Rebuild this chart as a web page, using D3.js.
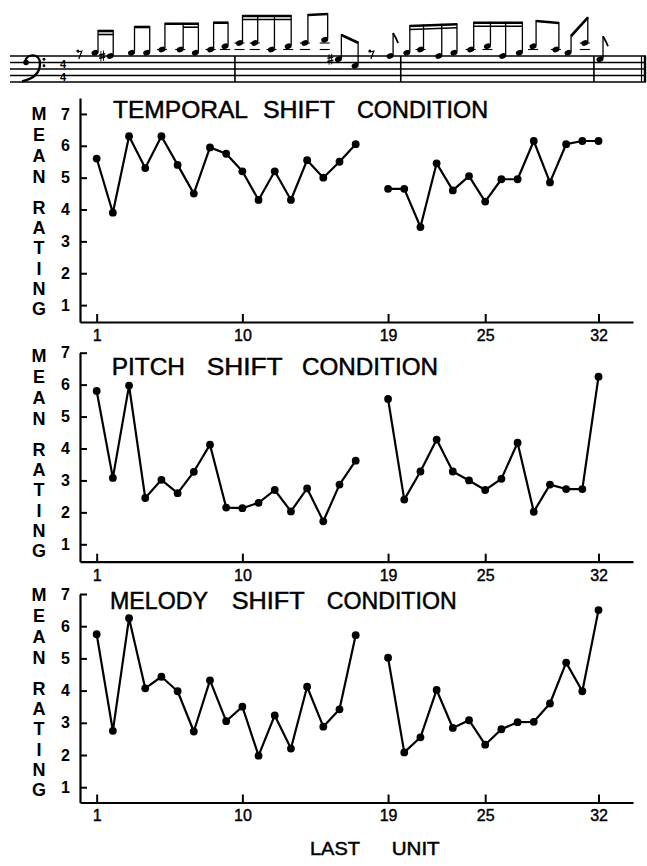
<!DOCTYPE html>
<html><head><meta charset="utf-8">
<script src="https://cdn.jsdelivr.net/npm/d3@7"></script>
<style>
html,body{margin:0;padding:0;background:#fff;}
svg{display:block;}
text{font-family:"Liberation Sans",Arial,Helvetica,sans-serif;fill:#000;}
</style></head>
<body>
<svg id="chart" width="647" height="866"></svg>
<script>
// ---------------- DATA ----------------
const units = [1,2,3,4,5,6,7,8,9,10,11,12,13,14,15,16,17,18,19,20,21,22,23,24,25,26,27,28,29,30,31,32];
const temporal = [5.6,3.9,6.3,5.3,6.3,5.4,4.5,5.95,5.75,5.2,4.3,5.2,4.3,5.55,5.0,5.5,6.05,null,4.65,4.65,3.45,5.45,4.6,5.05,4.25,4.95,4.95,6.15,4.85,6.05,6.15,6.15];
const pitch = [5.8,3.08,5.97,2.45,3.02,2.6,3.27,4.12,2.15,2.13,2.3,2.7,2.03,2.75,1.72,2.87,3.62,null,5.55,2.4,3.28,4.28,3.28,3.0,2.7,3.05,4.18,2.02,2.87,2.73,2.73,6.25];
const melody = [5.75,2.75,6.25,4.07,4.43,3.98,2.73,4.32,3.05,3.5,1.98,3.23,2.2,4.12,2.88,3.42,5.72,null,5.02,2.08,2.55,4.02,2.84,3.08,2.32,2.8,3.02,3.03,3.6,4.87,3.98,6.5];
const conditions = ["TEMPORAL SHIFT CONDITION","PITCH SHIFT CONDITION","MELODY SHIFT CONDITION"];
const xTickValues = [1,10,19,25,32];
const yTickValues = [1,2,3,4,5,6,7];
const yAxisLetters = ["M","E","A","N","","R","A","T","I","N","G"];
const xAxisTitle = "LAST UNIT";

// musical excerpt (score slot, staff step above top line)
const notePos   = [0,1,2.4,3.4,4.4,5.6,6.6,7.6,8.55,9.5,10.5,11.6,12.7,13.8,15.1,16,17.1,19.4,20.5,21.4,22.6,23.6,24.7,25.8,26.8,27.9,28.8,30.3,31.1,32.2,33.2];
const notePitch = [1,0,1,1,2,2,1,2,3,4,4,2,3,4,5,-1,-3,0,1,2,0,1,2,3,0,1,3,2,1,4,-1];
const sharpNotes = [1,15];
const restPos = [-1,18.2];
const barPos = [9.2,20.1,32.8];
const timeSig = ["4","4"];
// beam groups: [first note idx, last note idx, beam levels, second-beam start idx]
const beamGroups = [[0,1,2,0],[2,3,1,null],[4,6,2,5],[7,8,1,null],[9,12,2,9],[13,14,1,null],[15,16,1,null],[18,21,2,18],[22,25,2,22],[26,27,1,null],[28,29,1,null]];
const flagNotes = [17,30];

// ---------------- LAYOUT ----------------
const svg = d3.select("#chart");
const panels = [
  {series: temporal, yTop:98,  yBot:322,   dom:[0.47,7.5], base:118.3,
   words:[[113,135],[263,72],[357,131]], letterTop:113},
  {series: pitch,    yTop:352.7, yBot:561.7, dom:[0.455,7], base:375,
   words:[[111.7,73.3],[206.7,76],[302,136]], letterTop:355},
  {series: melody,   yTop:594, yBot:802.5, dom:[0.525,7], base:609.3,
   words:[[110,98],[231.7,73],[326.7,130]], letterTop:594}
];
const beamEnds = [[30,30],[26,26],[22.7,22.7],[21.7,21.7],[15,15],[14,13],[34,41.7],[25,23.3],[21.7,21.7],[20,22],[35,16.7]];
const x = d3.scaleLinear().domain([-0.03,34.13]).range([80,633]);
const letterOffsets = [0,21,42,63,null,94,114,134,155,175,195];

panels.forEach((p,i)=>{
  const y = d3.scaleLinear().domain(p.dom).range([p.yBot,p.yTop]);
  const g = svg.append("g");

  // x axis
  const xa = g.append("g").attr("transform",`translate(0,${p.yBot})`)
    .call(d3.axisBottom(x).tickValues(xTickValues).tickSize(-8).tickSizeOuter(0).tickPadding(7.5));
  xa.select(".domain").attr("stroke","#000").attr("stroke-width",2.2);
  xa.selectAll(".tick line").attr("stroke","#000").attr("stroke-width",2);
  xa.selectAll(".tick text").attr("font-size",16).attr("font-family","Liberation Sans, Arial, sans-serif")
    .attr("stroke","#000").attr("stroke-width",0.4).attr("fill","#000");

  // y axis
  const ya = g.append("g").attr("transform",`translate(80,0)`)
    .call(d3.axisLeft(y).tickValues(yTickValues).tickSize(-7).tickSizeOuter(0).tickPadding(10).tickFormat(d3.format("d")));
  ya.select(".domain").attr("stroke","#000").attr("stroke-width",2.2);
  ya.selectAll(".tick line").attr("stroke","#000").attr("stroke-width",2);
  ya.selectAll(".tick text").attr("font-size",16).attr("font-weight","bold")
    .attr("font-family","Liberation Sans, Arial, sans-serif").attr("fill","#000");

  // vertical y-axis title letters
  g.append("g").selectAll("text").data(yAxisLetters.map((l,k)=>({l,k})).filter(d=>d.l))
    .join("text")
    .attr("x",39).attr("y",d=>p.letterTop+letterOffsets[d.k]+6.5)
    .attr("text-anchor","middle").attr("font-size",18).attr("font-weight","bold")
    .text(d=>d.l);

  // title words
  const words = conditions[i].split(" ");
  g.append("g").selectAll("text").data(words).join("text")
    .attr("x",(d,k)=>p.words[k][0]).attr("y",p.base)
    .attr("textLength",(d,k)=>p.words[k][1]).attr("lengthAdjust","spacingAndGlyphs")
    .attr("font-size",24).attr("stroke","#000").attr("stroke-width",0.5)
    .text(d=>d);

  // data line and points
  const data = units.map((u,k)=>({u,v:p.series[k]}));
  const line = d3.line().defined(d=>d.v!=null).x(d=>x(d.u)).y(d=>y(d.v));
  g.append("path").datum(data).attr("d",line).attr("fill","none")
    .attr("stroke","#000").attr("stroke-width",2.2).attr("stroke-linejoin","round");
  g.append("g").selectAll("circle").data(data.filter(d=>d.v!=null)).join("circle")
    .attr("cx",d=>x(d.u)).attr("cy",d=>y(d.v)).attr("r",3.9).attr("fill","#000");
});

// x-axis title
const xt = xAxisTitle.split(" ");
svg.append("g").selectAll("text").data(xt).join("text")
  .attr("x",(d,k)=>[310,391.7][k]).attr("y",855)
  .attr("textLength",(d,k)=>[50,48][k]).attr("lengthAdjust","spacingAndGlyphs")
  .attr("font-size",19).attr("stroke","#000").attr("stroke-width",0.5).text(d=>d);

// ---------------- MUSIC STAFF ----------------
const sx = d3.scaleLinear().domain([0,33.2]).range([95,600]);
const staffTop = 56, sp = 6.5;
const sy = step => staffTop - step*sp/2;
const m = svg.append("g");
d3.range(5).forEach(k=>{
  m.append("line").attr("x1",10).attr("x2",646).attr("y1",staffTop+k*sp).attr("y2",staffTop+k*sp)
    .attr("stroke","#000").attr("stroke-width",1.4);
});
barPos.forEach(b=>{
  m.append("line").attr("x1",sx(b)).attr("x2",sx(b)).attr("y1",staffTop).attr("y2",staffTop+4*sp)
    .attr("stroke","#000").attr("stroke-width",1.6);
});
m.append("line").attr("x1",641.5).attr("x2",641.5).attr("y1",staffTop).attr("y2",staffTop+4*sp).attr("stroke","#000").attr("stroke-width",1.2);
m.append("line").attr("x1",645).attr("x2",645).attr("y1",staffTop).attr("y2",staffTop+4*sp).attr("stroke","#000").attr("stroke-width",2.4);
// bass clef
m.append("circle").attr("cx",26).attr("cy",staffTop+sp).attr("r",2.8).attr("fill","#000");
m.append("path").attr("d",`M25,${staffTop+sp-1} C27,${staffTop-3} 40,${staffTop-3} 40,${staffTop+sp+1} C40,${staffTop+3*sp} 31,${staffTop+3.6*sp} 22,${staffTop+3.9*sp}`)
  .attr("fill","none").attr("stroke","#000").attr("stroke-width",2.4);
m.append("circle").attr("cx",44).attr("cy",staffTop+sp*0.5).attr("r",1.4).attr("fill","#000");
m.append("circle").attr("cx",44).attr("cy",staffTop+sp*1.5).attr("r",1.4).attr("fill","#000");
// time signature
timeSig.forEach((t,k)=>{
  m.append("text").attr("x",63).attr("y",staffTop+2*sp*(k+1)-1).attr("text-anchor","middle")
    .attr("font-size",11).attr("font-weight","bold").text(t);
});
// ledger lines
notePitch.forEach((s,k)=>{
  [2,4].forEach(L=>{ if(s>=L) m.append("line").attr("x1",sx(notePos[k])-5).attr("x2",sx(notePos[k])+5)
     .attr("y1",sy(L)).attr("y2",sy(L)).attr("stroke","#000").attr("stroke-width",1.1); });
});
// note heads
m.append("g").selectAll("ellipse").data(notePos.map((p,k)=>({p,s:notePitch[k]}))).join("ellipse")
  .attr("cx",d=>sx(d.p)).attr("cy",d=>sy(d.s)).attr("rx",3.6).attr("ry",2.6)
  .attr("transform",d=>`rotate(-22,${sx(d.p)},${sy(d.s)})`).attr("fill","#000");
// sharps (drawn)
sharpNotes.forEach(k=>{
  const cx = sx(notePos[k])-8, cy = sy(notePitch[k]);
  m.append("path").attr("d",`M${cx-1.3},${cy-5} L${cx-1.3},${cy+5.5} M${cx+1.3},${cy-5.5} L${cx+1.3},${cy+5}`)
    .attr("stroke","#000").attr("stroke-width",0.9).attr("fill","none");
  m.append("path").attr("d",`M${cx-3},${cy-1} L${cx+3},${cy-2.3} M${cx-3},${cy+2.3} L${cx+3},${cy+1}`)
    .attr("stroke","#000").attr("stroke-width",1.6).attr("fill","none");
});
// beams and stems
beamGroups.forEach((bg,gi)=>{
  const [a,b,lv,ps] = bg;
  const bt = beamEnds[gi];
  const xa = sx(notePos[a])+3, xb = sx(notePos[b])+3;
  const by = xx => bt[0] + (bt[1]-bt[0])*(xx-xa)/(xb-xa);
  for(let k=a;k<=b;k++){
    const xs = sx(notePos[k])+3;
    m.append("line").attr("x1",xs).attr("x2",xs).attr("y1",sy(notePitch[k])-1).attr("y2",by(xs))
      .attr("stroke","#000").attr("stroke-width",1.3);
  }
  m.append("line").attr("x1",xa).attr("x2",xb).attr("y1",by(xa)+1).attr("y2",by(xb)+1)
    .attr("stroke","#000").attr("stroke-width",2.6);
  if(lv===2){
    const xs2 = sx(notePos[ps])+3;
    m.append("line").attr("x1",xs2).attr("x2",xb).attr("y1",by(xs2)+4.5).attr("y2",by(xb)+4.5)
      .attr("stroke","#000").attr("stroke-width",1.6);
  }
});
// flagged eighths
flagNotes.forEach(k=>{
  const xs = sx(notePos[k])+3, top = sy(notePitch[k]) - 23;
  m.append("line").attr("x1",xs).attr("x2",xs).attr("y1",sy(notePitch[k])-1).attr("y2",top).attr("stroke","#000").attr("stroke-width",1.3);
  m.append("path").attr("d",`M${xs},${top} Q${xs+3},${top+5} ${xs+5},${top+10}`).attr("fill","none").attr("stroke","#000").attr("stroke-width",1.8);
});
// eighth rests
restPos.forEach(r=>{
  const xr = sx(r), yr = staffTop-2;
  m.append("circle").attr("cx",xr-2).attr("cy",yr-3).attr("r",1.5).attr("fill","#000");
  m.append("path").attr("d",`M${xr-2},${yr-2} L${xr+2},${yr-3} L${xr-1},${yr+5}`).attr("fill","none").attr("stroke","#000").attr("stroke-width",1.2);
});
</script>
</body></html>
